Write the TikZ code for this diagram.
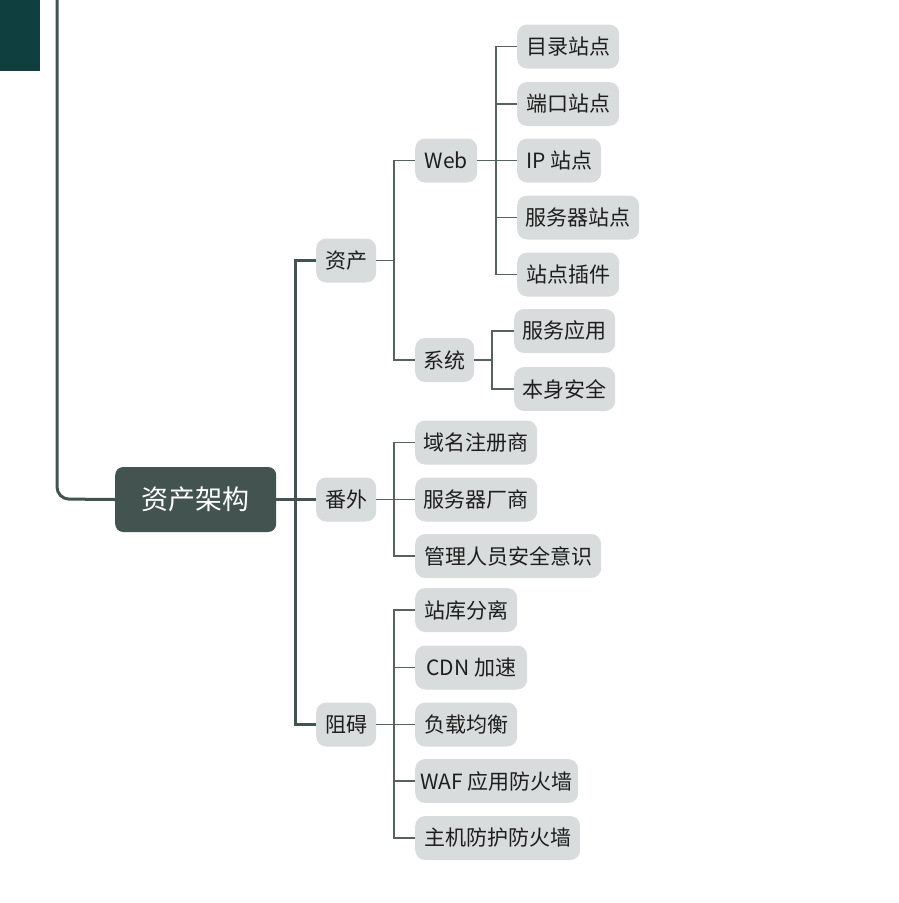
\documentclass[tikz,border=0pt]{standalone}
\usepackage{fontspec}
\setmainfont{Noto Sans CJK SC}
\definecolor{corner}{HTML}{0F3F3F}
\definecolor{rootfill}{HTML}{435350}
\definecolor{boxfill}{HTML}{D9DCDC}
\definecolor{ink}{HTML}{1E1E1E}
\definecolor{thinline}{HTML}{56625E}
\begin{document}
\begin{tikzpicture}[x=1pt,y=-1pt,
  rootbox/.style={draw=none,fill=rootfill,text=white,rounded corners=8pt,
    minimum width=161pt,minimum height=65pt,inner sep=0pt,font=\fontsize{27}{31}\selectfont,anchor=west},
  leaf/.style={draw=none,fill=boxfill,text=ink,rounded corners=10pt,
    minimum height=44pt,inner sep=0pt,font=\fontsize{21}{25}\selectfont,anchor=west},
  thickline/.style={draw=rootfill,line width=3pt},
  thinlink/.style={draw=thinline,line width=1.6pt}]
\useasboundingbox (0,0) rectangle (899,903);
\fill[corner] (0,0) rectangle (40,71);
% nodes
\node[rootbox] (root) at (115,499.5) {资产架构};
\node[leaf,minimum width=60pt] (zc) at (316,260.5) {资产};
\node[leaf,minimum width=60pt] (fw) at (316,499.5) {番外};
\node[leaf,minimum width=60pt] (za) at (316,724.5) {阻碍};
\node[leaf,minimum width=62pt] (web) at (415,160.5) {Web};
\node[leaf,minimum width=59pt] (xt) at (415,360) {系统};
\node[leaf,minimum width=102pt] (c1) at (517,46.5) {目录站点};
\node[leaf,minimum width=102pt] (c2) at (517,104) {端口站点};
\node[leaf,minimum width=84pt] (c3) at (517,160.5) {IP 站点};
\node[leaf,minimum width=122pt] (c4) at (517,217.5) {服务器站点};
\node[leaf,minimum width=102pt] (c5) at (517,274.5) {站点插件};
\node[leaf,minimum width=101pt] (s1) at (514,331) {服务应用};
\node[leaf,minimum width=101pt] (s2) at (514,389) {本身安全};
\node[leaf,minimum width=122pt] (f1) at (415,442.5) {域名注册商};
\node[leaf,minimum width=122pt] (f2) at (415,499.5) {服务器厂商};
\node[leaf,minimum width=186pt] (f3) at (415,556) {管理人员安全意识};
\node[leaf,minimum width=102pt] (z1) at (415,610) {站库分离};
\node[leaf,minimum width=112pt] (z2) at (415,667.5) {CDN 加速};
\node[leaf,minimum width=102pt] (z3) at (415,724.5) {负载均衡};
\node[leaf,minimum width=163pt] (z4) at (415,781) {WAF 应用防火墙};
\node[leaf,minimum width=165pt] (z5) at (415,838) {主机防护防火墙};
% bus coordinates
\coordinate (top) at (57,0);
\coordinate (spine) at (295,499);
\coordinate (bzc) at (394,260.5);
\coordinate (bfw) at (394,499.5);
\coordinate (bza) at (394,724.5);
\coordinate (bweb) at (496,160.5);
\coordinate (bxt) at (492,360);
% left line
\draw[thickline,rounded corners=12pt] (top) -- (57,499) -- (root.west);
% root to level 1
\draw[thickline] (root.east) -- (fw.west);
\draw[thickline] (zc.west) -| (spine);
\draw[thickline] (za.west) -| (spine);
% level 1 to level 2
\draw[thinlink] (zc.east) -- (bzc);
\draw[thinlink] (web.west) -| (bzc);
\draw[thinlink] (xt.west) -| (bzc);
\draw[thinlink] (fw.east) -- (f2.west);
\draw[thinlink] (f1.west) -| (bfw);
\draw[thinlink] (f3.west) -| (bfw);
\draw[thinlink] (za.east) -- (z3.west);
\draw[thinlink] (z1.west) -| (bza);
\draw[thinlink] (z5.west) -| (bza);
\draw[thinlink] (z2.west) -- (z2.west -| bza);
\draw[thinlink] (z4.west) -- (z4.west -| bza);
% level 2 to level 3
\draw[thinlink] (web.east) -- (c3.west);
\draw[thinlink] (c1.west) -| (bweb);
\draw[thinlink] (c5.west) -| (bweb);
\draw[thinlink] (c2.west) -- (c2.west -| bweb);
\draw[thinlink] (c4.west) -- (c4.west -| bweb);
\draw[thinlink] (xt.east) -- (bxt);
\draw[thinlink] (s1.west) -| (bxt);
\draw[thinlink] (s2.west) -| (bxt);
\end{tikzpicture}
\end{document}
